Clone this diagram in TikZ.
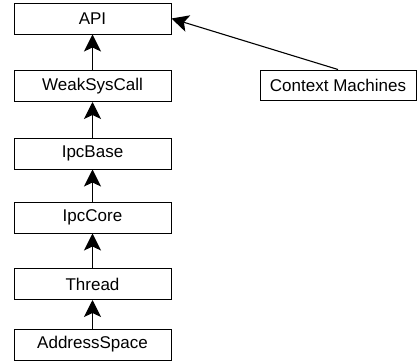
\documentclass[tikz,border=0pt]{standalone}
\usepackage{fontspec}
\setmainfont{Liberation Sans}
\usepackage{tikz}
\usetikzlibrary{arrows.meta,positioning}

\begin{document}
\begin{tikzpicture}[x=1pt,y=-1pt,>={Stealth[length=17pt,width=17pt,inset=4pt]},
  layer/.style={draw=black,line width=1pt,minimum width=157pt,minimum height=31pt,inner sep=0pt,font=\fontsize{17}{20}\selectfont},
  dep/.style={->,line width=1.1pt}]
\useasboundingbox (0,0) rectangle (418,364);
\node[layer] (api) at (92.5,18.5) {API};
\node[layer] (wsc) at (92.5,86) {WeakSysCall};
\node[layer] (ipcb) at (92.5,153.5) {IpcBase};
\node[layer] (ipcc) at (92.5,217.5) {IpcCore};
\node[layer] (thr) at (92.5,284) {Thread};
\node[layer] (aspace) at (92.5,344.5) {AddressSpace};
\node[layer,minimum width=156pt,minimum height=30pt] (ctx) at (338,85) {Context Machines};
\draw[dep] (wsc.north)--(api.south);
\draw[dep] (ipcb.north)--(wsc.south);
\draw[dep] (ipcc.north)--(ipcb.south);
\draw[dep] (thr.north)--(ipcc.south);
\draw[dep] (aspace.north)--(thr.south);
\draw[dep] (ctx.north)--(api.east);
\end{tikzpicture}
\end{document}
